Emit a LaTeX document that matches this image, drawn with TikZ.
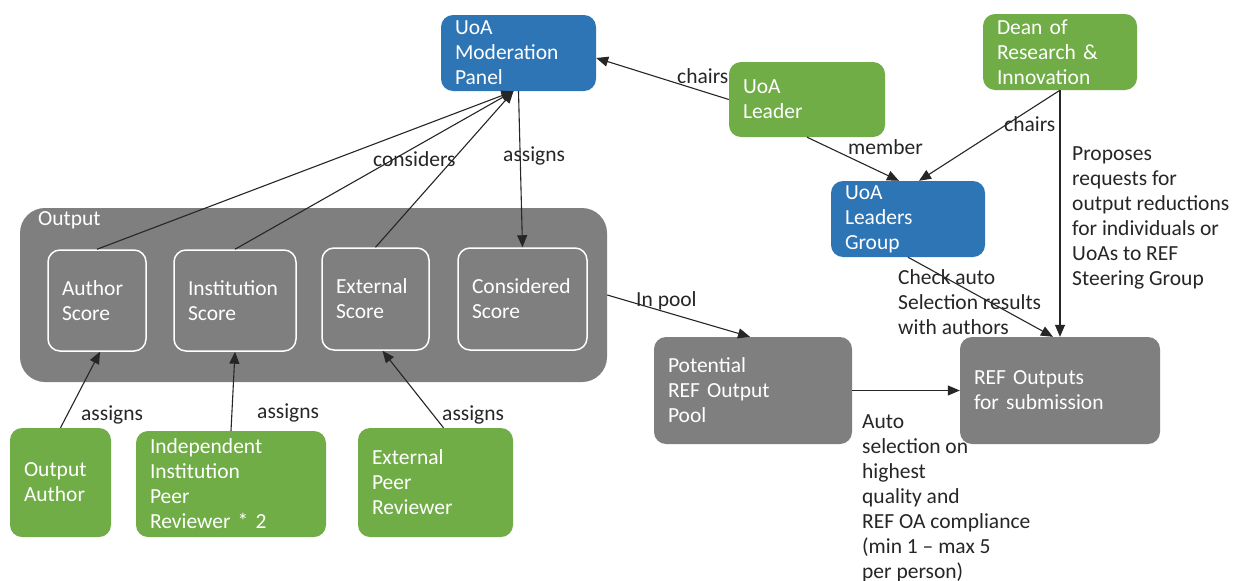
\documentclass[tikz,border=0pt]{standalone}
\usepackage{fontspec}
\setmainfont{Carlito}
\usetikzlibrary{arrows.meta}
\definecolor{ublue}{HTML}{2E75B6}
\definecolor{ugreen}{HTML}{70AD47}
\definecolor{ugray}{HTML}{7F7F7F}
\definecolor{ink}{HTML}{262626}
\begin{document}
\begin{tikzpicture}[x=1pt,y=-1pt,
  box/.style={rounded corners=12pt, align=left, inner xsep=14pt, inner ysep=0pt, font=\fontsize{21.5}{25}\selectfont, text=white},
  bbox/.style={box, fill=ublue},
  gbox/.style={box, fill=ugreen},
  ybox/.style={box, fill=ugray},
  sbox/.style={box, fill=ugray, draw=white, line width=1.5pt},
  lbl/.style={font=\fontsize{21.5}{25}\selectfont, text=ink, align=left, inner sep=0pt, anchor=base west},
  arr/.style={draw=ink, line width=1.1pt, -{Triangle[length=12pt,width=10pt]}}
]
\useasboundingbox[fill=white] (0,0) rectangle (1235,581);

% container
\node[ybox, rounded corners=25pt, minimum width=587, minimum height=174] (outbox) at (313.5,295) {};
\node[anchor=base west, inner sep=0pt, text=white, font=\fontsize{21.5}{25}\selectfont] (outlbl) at (38,225) {Output};

% boxes
\node[bbox, minimum width=155, minimum height=76, text width=127] (modp) at (518.5,53) {UoA\\Moderation\\Panel};
\node[gbox, minimum width=156, minimum height=75, text width=128] (leader) at (807,99.5) {UoA\\Leader};
\node[gbox, minimum width=154, minimum height=76, text width=126] (dean) at (1060,52) {Dean of\\Research \&\\Innovation};
\node[bbox, minimum width=154, minimum height=76, text width=126] (lgroup) at (908,219) {UoA\\Leaders\\Group};

\node[sbox, minimum width=98, minimum height=101, text width=70] (asc) at (97,300.5) {Author\\Score};
\node[sbox, minimum width=122, minimum height=101, text width=94] (isc) at (235,300.5) {Institution\\Score};
\node[sbox, minimum width=107, minimum height=102, text width=79] (esc) at (375.5,299) {External\\Score};
\node[sbox, minimum width=129, minimum height=102, text width=101] (csc) at (522.5,299) {Considered\\Score};

\node[ybox, minimum width=198, minimum height=107, text width=170] (pool) at (753,390.5) {Potential\\REF Output\\Pool};
\node[ybox, minimum width=200, minimum height=107, text width=172] (refout) at (1060,390.5) {REF Outputs\\for submission};

\node[gbox, minimum width=101, minimum height=109, text width=73] (oa) at (60.5,482.5) {Output\\Author};
\node[gbox, minimum width=190, minimum height=106, text width=162] (ipr) at (231,484) {Independent\\Institution\\Peer\\Reviewer * 2};
\node[gbox, minimum width=155, minimum height=109, text width=127] (epr) at (435.5,482.5) {External\\Peer\\Reviewer};

% connectors
\draw[arr] (asc.north) -- ([xshift=-5pt]modp.south);
\draw[arr] (isc.north) -- ([xshift=-5pt]modp.south);
\draw[arr] (esc.north) -- ([xshift=-5pt]modp.south);
\draw[arr] (modp.south) -- (csc.north);
\draw[arr] (leader.west) -- ([yshift=-5pt]modp.east);
\draw[arr] (leader.south) -- ([xshift=-9pt]lgroup.north);
\draw[arr] (dean.south) -- ([xshift=11pt]lgroup.north);
\draw[arr] (dean.south) -- (refout.north);
\draw[arr] (lgroup.south) -- ([xshift=-7pt]refout.north);
\draw[arr] (outbox.east) -- ([xshift=-3pt]pool.north);
\draw[arr] (pool.east) -- (refout.west);
\draw[arr] (oa.north) -- ([xshift=3pt]asc.south);
\draw[arr] (ipr.north) -- (isc.south);
\draw[arr] ([xshift=8pt]epr.north) -- ([xshift=7pt]esc.south);

% labels (multi-line labels: base = last line)
\node[lbl] (l1) at (677,83) {chairs};
\node[lbl] (l2) at (848,154) {member};
\node[lbl] (l3) at (1004,131) {chairs};
\node[lbl] (l4) at (1072,285) {Proposes\\requests for\\output reductions\\for individuals or\\UoAs to REF\\Steering Group};
\node[lbl] (l5) at (898,334) {Check auto\\Selection results\\with authors};
\node[lbl] (l6) at (373,166) {considers};
\node[lbl] (l7) at (503,161) {assigns};
\node[lbl] (l8) at (636,306) {In pool};
\node[lbl] (l9) at (862,578) {Auto\\selection on\\highest\\quality and\\REF OA compliance\\(min 1 – max 5\\per person)};
\node[lbl] (l10) at (81,420) {assigns};
\node[lbl] (l11) at (257,418) {assigns};
\node[lbl] (l12) at (442,420) {assigns};
\end{tikzpicture}
\end{document}
